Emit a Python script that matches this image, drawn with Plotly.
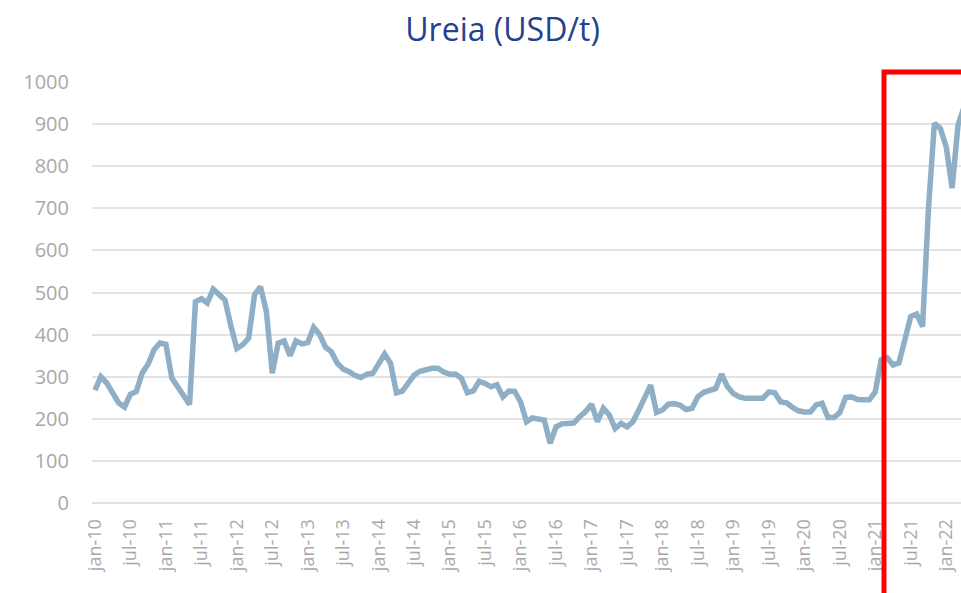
import plotly.graph_objects as go

# Monthly urea price (USD/t), jan-10 .. abr-22
months_pt = ["jan", "fev", "mar", "abr", "mai", "jun", "jul", "ago", "set", "out", "nov", "dez"]
years = ["10", "11", "12", "13", "14", "15", "16", "17", "18", "19", "20", "21", "22"]

v2010 = [268, 300, 285, 258, 238, 228, 258, 265, 309, 330, 364, 380]
v2011 = [377, 297, 276, 252, 234, 478, 485, 475, 508, 495, 482, 420]
v2012 = [367, 376, 392, 495, 514, 455, 308, 380, 385, 350, 385, 378]
v2013 = [381, 417, 400, 370, 359, 332, 318, 312, 303, 298, 306, 308]
v2014 = [330, 354, 332, 262, 266, 288, 304, 313, 318, 320, 320, 311]
v2015 = [306, 306, 296, 262, 266, 289, 284, 276, 281, 252, 266, 265]
v2016 = [240, 193, 202, 198, 197, 142, 181, 188, 189, 190, 205, 217]
v2017 = [235, 193, 225, 209, 177, 189, 181, 193, 221, 249, 280, 215]
v2018 = [221, 235, 236, 232, 222, 225, 253, 263, 268, 272, 306, 276]
v2019 = [260, 252, 249, 248, 248, 249, 264, 262, 240, 238, 227, 219]
v2020 = [216, 216, 233, 237, 203, 203, 215, 251, 252, 246, 245, 245]
v2021 = [264, 340, 345, 328, 333, 390, 443, 449, 419, 700, 902, 890]
v2022 = [846, 748, 898, 940]

values = v2010 + v2011 + v2012 + v2013 + v2014 + v2015 + v2016 + v2017 + v2018 + v2019 + v2020 + v2021 + v2022
categories = [f"{m}-{y}" for y in years for m in months_pt][:len(values)]
tick_labels = [c for c in categories if c.startswith("jan") or c.startswith("jul")]

y_ticks = [0, 100, 200, 300, 400, 500, 600, 700, 800, 900, 1000]

fig = go.Figure()
fig.add_trace(go.Scatter(
    x=categories, y=values, mode="lines",
    line=dict(color="#8FAFC7", width=5.5),
    hoverinfo="skip", showlegend=False,
))

font_fam = "Open Sans, Noto Sans, sans-serif"

fig.update_layout(
    width=961, height=593,
    margin=dict(l=92, r=0, t=82, b=90),
    paper_bgcolor="white", plot_bgcolor="white",
    title=dict(text="Ureia (USD/t)", x=0.523, xanchor="center", y=0.949, yanchor="middle",
               font=dict(family=font_fam, size=32, color="#24408E")),
    xaxis=dict(type="category", range=[-0.5, 146.5], tickmode="array",
               tickvals=tick_labels, ticktext=tick_labels, tickangle=-90,
               tickfont=dict(family=font_fam, size=18, color="#A9A9A9"),
               showgrid=False, showline=False, zeroline=False,
               ticks="outside", ticklen=8, tickcolor="rgba(0,0,0,0)"),
    yaxis=dict(range=[0, 1000], tickvals=y_ticks,
               tickfont=dict(family=font_fam, size=20, color="#A9A9A9"),
               showgrid=True, gridcolor="#E3E3E3", gridwidth=1.5,
               zeroline=True, zerolinecolor="#E3E3E3", zerolinewidth=1.5,
               showline=False, ticklabelstandoff=22),
    shapes=[dict(type="path", xref="paper", yref="paper",
                 path="M 0.9114,-0.25 L 0.9114,1.0238 L 1.02,1.0238",
                 line=dict(color="#FF0000", width=5), layer="above")],
)

fig.write_html("out.html", config={"displayModeBar": False},
               post_script="document.body.style.margin='0';document.body.style.overflow='hidden';")
